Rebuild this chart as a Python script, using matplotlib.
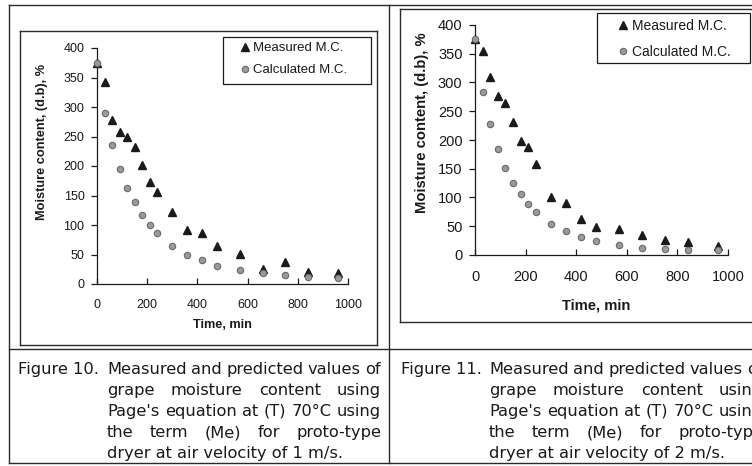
import numpy as np
import matplotlib
matplotlib.use("Agg")
import matplotlib.pyplot as plt
from matplotlib.lines import Line2D
from matplotlib.patches import Rectangle

# drying time, min (same sampling in both runs)
time_min = [0, 30, 60, 90, 120, 150, 180, 210, 240, 300, 360, 420, 480, 570, 660, 750, 840, 960]

# Figure 10: air velocity 1 m/s
measured_1 = [375, 342, 278, 257, 250, 232, 202, 173, 156, 122, 92, 87, 64, 51, 26, 37, 21, 19]
calculated_1 = [375, 290, 236, 195, 162, 139, 117, 100, 86, 65, 49, 40, 31, 24, 18, 15, 12, 11]

# Figure 11: air velocity 2 m/s
measured_2 = [375, 354, 310, 277, 264, 231, 199, 187, 159, 101, 91, 63, 49, 45, 35, 26, 22, 16]
calculated_2 = [375, 283, 227, 184, 152, 126, 106, 89, 75, 54, 41, 32, 24, 17, 13, 11, 9, 8]

x_ticks = [0, 200, 400, 600, 800, 1000]
y_ticks = [0, 50, 100, 150, 200, 250, 300, 350, 400]

caption_10 = ["Measured and predicted values of",
              "grape moisture content using",
              "Page's equation at (T) 70\u00b0C using",
              "the term (Me) for proto-type",
              "dryer at air velocity of 1 m/s."]
caption_11 = ["Measured and predicted values of",
              "grape moisture content using",
              "Page's equation at (T) 70\u00b0C using",
              "the term (Me) for proto-type",
              "dryer at air velocity of 2 m/s."]

W, H = 752, 466
INK = '#1a1a1a'
plt.rcParams['font.family'] = ['Liberation Sans', 'DejaVu Sans']

fig = plt.figure(figsize=(W / 100, H / 100), dpi=100)
fig.patch.set_facecolor('white')


def box(l, t, r, b):
    # pixel box -> figure fraction rect
    return [l / W, 1 - b / H, (r - l) / W, (b - t) / H]


# table / frame lines drawn in pixel space
bg = fig.add_axes([0, 0, 1, 1], zorder=0)
bg.set_xlim(0, W)
bg.set_ylim(H, 0)
bg.axis('off')
seg = [((9, 5), (752, 5)), ((9, 5), (9, 463)), ((389, 5), (389, 463)),
       ((9, 349), (752, 349)), ((9, 463), (752, 463)),
       ((20, 31), (377, 31)), ((20, 31), (20, 345)), ((377, 31), (377, 345)), ((20, 345), (377, 345)),
       ((400, 9), (752, 9)), ((400, 9), (400, 322)), ((400, 322), (752, 322))]
for (x0, y0), (x1, y1) in seg:
    bg.add_line(Line2D([x0, x1], [y0, y1], color='#2a2a2a', lw=1.0))
# legend frames
bg.add_patch(Rectangle((223, 37), 148, 47, fill=False, ec=INK, lw=0.9))
bg.add_patch(Rectangle((597, 13), 153, 50, fill=False, ec=INK, lw=0.9))


def panel(rect, meas, calc, fs, lab_fs, ylab_xy, xlab_xy, leg_anchor, leg_fs, leg_sp):
    ax = fig.add_axes(rect, zorder=2)
    ax.patch.set_alpha(0)
    ax.plot(time_min, meas, linestyle='none', marker='^', ms=5.5, color=INK,
            label='Measured M.C.', clip_on=False, zorder=3)
    ax.plot(time_min, calc, linestyle='none', marker='o', ms=4.6, mfc='#9a9a9a', mec='#6a6a6a',
            mew=0.8, label='Calculated M.C.', clip_on=False, zorder=3)
    ax.set_xlim(0, 1000)
    ax.set_ylim(0, 400)
    ax.set_xticks(x_ticks)
    ax.set_yticks(y_ticks)
    for s in ['top', 'right']:
        ax.spines[s].set_visible(False)
    for s in ['left', 'bottom']:
        ax.spines[s].set_color(INK)
        ax.spines[s].set_linewidth(0.9)
    ax.tick_params(axis='y', direction='out', length=4, width=0.9, colors=INK, labelsize=fs, pad=5)
    ax.tick_params(axis='x', direction='in', length=4, width=0.9, colors=INK, labelsize=fs, pad=11)
    ax.text(ylab_xy[0], ylab_xy[1], 'Moisture content, (d.b), %', transform=ax.transAxes,
            rotation=90, ha='center', va='center', fontsize=lab_fs, fontweight='bold', color=INK)
    ax.text(xlab_xy[0], xlab_xy[1], 'Time, min', transform=ax.transAxes,
            ha='center', va='center', fontsize=lab_fs, fontweight='bold', color=INK)
    leg = ax.legend(loc='upper left', bbox_to_anchor=leg_anchor, bbox_transform=fig.transFigure,
                    fontsize=leg_fs, frameon=False, handlelength=0.7, handletextpad=0.3,
                    borderpad=0, labelspacing=leg_sp, borderaxespad=0)
    for t in leg.get_texts():
        t.set_color(INK)
    return ax


panel(box(97, 48, 348, 284), measured_1, calculated_1, 9, 9.2,
      (-0.22, 0.60), (0.50, -0.175), (240 / W, 1 - 42 / H), 9.5, 0.75)
panel(box(475, 25, 728, 255), measured_2, calculated_2, 10.5, 10.6,
      (-0.21, 0.575), (0.48, -0.22), (618 / W, 1 - 19 / H), 10, 0.85)

# captions, justified like the printed table
renderer = fig.canvas.get_renderer()
CAP = dict(fontsize=11.7, color=INK, family='DejaVu Sans', va='baseline')


def put(word, x, y):
    return fig.text(x / W, 1 - y / H, word, ha='left', **CAP)


def justified(line, x0, x1, y, last=False):
    words = line.split(' ')
    if last:
        put(line, x0, y)
        return
    arts = [put(w, 0, y) for w in words]
    widths = [a.get_window_extent(renderer).width for a in arts]
    gap = (x1 - x0 - sum(widths)) / (len(words) - 1)
    x = x0
    for a, w in zip(arts, widths):
        a.set_x(x / W)
        x += w + gap


baselines = [374, 395, 416, 437, 458]
for label, lines, xf, xl, xr in [('Figure 10.', caption_10, 18, 107, 381),
                                 ('Figure 11.', caption_11, 401, 489, 763)]:
    put(label, xf, baselines[0])
    for i, ln in enumerate(lines):
        justified(ln, xl, xr, baselines[i], last=(i == len(lines) - 1))

fig.savefig('out.png', dpi=100, facecolor='white')
